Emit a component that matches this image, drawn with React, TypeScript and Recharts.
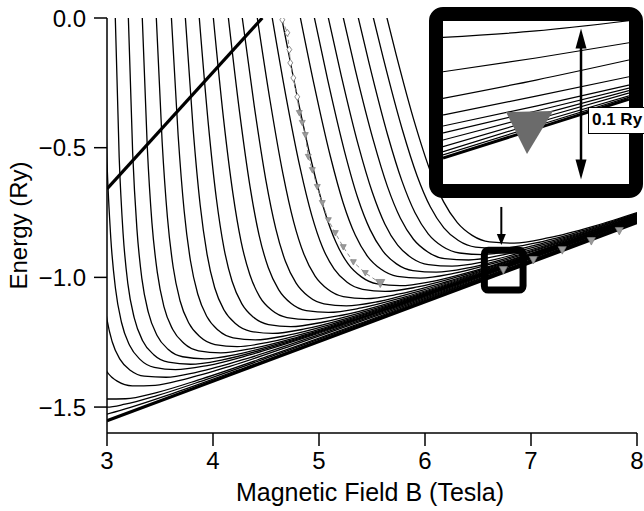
import React from "react";
import {
  ComposedChart,
  Line,
  Scatter,
  XAxis,
  YAxis,
  ReferenceArea,
  ReferenceDot,
  ReferenceLine,
} from "recharts";

type Pt = [number, number];

// energy levels, [B (Tesla), E (Ry)]
const lvlM5: Pt[] = [[2.84, -1.54], [3.0, -1.527], [3.214, -1.502], [3.617, -1.448], [4.336, -1.343], [5.457, -1.174], [8, -0.787]];
const lvlM4: Pt[] = [[2.903, -1.5], [3.0, -1.5], [3.17, -1.489], [3.471, -1.456], [3.933, -1.394], [4.625, -1.294], [5.664, -1.14], [8, -0.785]];
const lvlM3: Pt[] = [[2.884, -1.453], [3.0, -1.469], [3.176, -1.468], [3.468, -1.444], [3.888, -1.392], [4.534, -1.302], [5.504, -1.16], [8, -0.784]];
const lvlM2: Pt[] = [[2.937, -1.315], [3.0, -1.364], [3.096, -1.4], [3.239, -1.418], [3.454, -1.416], [3.739, -1.392], [4.166, -1.342], [4.736, -1.264], [5.675, -1.129], [8, -0.781]];
const lvlM1: Pt[] = [[2.965, -1.06], [3.0, -1.163], [3.049, -1.248], [3.123, -1.316], [3.226, -1.36], [3.351, -1.381], [3.557, -1.385], [3.851, -1.365], [4.35, -1.309], [5.07, -1.211], [6.178, -1.051], [8, -0.778]];
const lvl0: Pt[] = [[2.962, 0.039], [3.0, -0.555], [3.036, -0.85], [3.08, -1.043], [3.137, -1.174], [3.213, -1.262], [3.314, -1.317], [3.446, -1.347], [3.646, -1.356], [3.946, -1.34], [4.345, -1.299], [4.943, -1.223], [5.741, -1.111], [6.827, -0.952], [8, -0.776]];
const lvl1: Pt[] = [[3.077, 0.02], [3.115, -0.538], [3.152, -0.832], [3.197, -1.025], [3.257, -1.156], [3.336, -1.244], [3.441, -1.298], [3.579, -1.327], [3.787, -1.335], [4.1, -1.317], [4.516, -1.273], [5.14, -1.193], [5.972, -1.075], [7.105, -0.909], [8, -0.775]];
const lvl2: Pt[] = [[3.2, 0.02], [3.242, -0.518], [3.282, -0.812], [3.329, -1.005], [3.39, -1.135], [3.471, -1.223], [3.576, -1.277], [3.714, -1.306], [3.923, -1.314], [4.235, -1.296], [4.651, -1.252], [5.274, -1.172], [6.105, -1.055], [7.235, -0.889], [8, -0.775]];
const lvl3: Pt[] = [[3.331, 0.02], [3.38, -0.497], [3.424, -0.79], [3.475, -0.982], [3.537, -1.113], [3.619, -1.2], [3.725, -1.254], [3.864, -1.283], [4.073, -1.291], [4.385, -1.273], [4.8, -1.23], [5.422, -1.15], [6.251, -1.033], [7.379, -0.867], [8, -0.774]];
const lvl4: Pt[] = [[3.463, 0.02], [3.52, -0.476], [3.57, -0.768], [3.624, -0.96], [3.689, -1.09], [3.773, -1.177], [3.88, -1.23], [4.019, -1.259], [4.228, -1.267], [4.54, -1.249], [4.954, -1.206], [5.575, -1.126], [6.401, -1.01], [8, -0.774]];
const lvl5: Pt[] = [[3.605, 0.02], [3.671, -0.452], [3.728, -0.744], [3.787, -0.935], [3.856, -1.064], [3.942, -1.151], [4.05, -1.204], [4.19, -1.233], [4.399, -1.241], [4.71, -1.223], [5.123, -1.18], [5.742, -1.101], [6.566, -0.984], [8, -0.773]];
const lvl6: Pt[] = [[3.736, 0.02], [3.813, -0.431], [3.879, -0.721], [3.944, -0.911], [4.016, -1.04], [4.104, -1.126], [4.214, -1.179], [4.355, -1.208], [4.564, -1.216], [4.875, -1.198], [5.287, -1.155], [5.903, -1.076], [6.724, -0.96], [8, -0.773]];
const lvl7: Pt[] = [[3.867, 0.019], [3.956, -0.409], [4.032, -0.697], [4.103, -0.886], [4.18, -1.015], [4.271, -1.101], [4.383, -1.154], [4.524, -1.182], [4.734, -1.19], [5.044, -1.172], [5.455, -1.129], [6.068, -1.051], [6.885, -0.936], [8, -0.772]];
const lvl8: Pt[] = [[3.999, 0.019], [4.099, -0.387], [4.187, -0.674], [4.265, -0.862], [4.347, -0.989], [4.441, -1.075], [4.555, -1.127], [4.698, -1.155], [4.908, -1.163], [5.217, -1.146], [5.626, -1.103], [6.236, -1.025], [7.048, -0.911], [8, -0.771]];
const lvl9: Pt[] = [[4.14, 0.019], [4.251, -0.364], [4.349, -0.649], [4.434, -0.836], [4.521, -0.962], [4.619, -1.047], [4.735, -1.1], [4.879, -1.128], [5.089, -1.135], [5.398, -1.118], [5.805, -1.076], [6.412, -0.998], [7.22, -0.884], [8, -0.77]];
const lvl10: Pt[] = [[4.27, 0.019], [4.39, -0.342], [4.499, -0.626], [4.592, -0.812], [4.683, -0.938], [4.784, -1.022], [4.902, -1.074], [5.047, -1.102], [5.258, -1.11], [5.566, -1.093], [5.971, -1.05], [6.576, -0.973], [7.379, -0.86], [8, -0.77]];
const lvl11: Pt[] = [[4.411, 0.019], [4.539, -0.32], [4.66, -0.601], [4.761, -0.786], [4.858, -0.911], [4.963, -0.995], [5.083, -1.046], [5.229, -1.074], [5.44, -1.082], [5.747, -1.065], [6.151, -1.023], [6.752, -0.946], [7.55, -0.834], [8, -0.768]];
const lvl12: Pt[] = [[4.551, 0.019], [4.686, -0.297], [4.821, -0.576], [4.931, -0.76], [5.033, -0.884], [5.142, -0.967], [5.265, -1.019], [5.412, -1.046], [5.623, -1.054], [5.93, -1.037], [6.332, -0.995], [6.929, -0.919], [8, -0.767]];
const lvl13: Pt[] = [[4.641, 0.014], [4.784, -0.282], [4.932, -0.559], [5.05, -0.741], [5.16, -0.865], [5.273, -0.947], [5.4, -0.998], [5.55, -1.025], [5.765, -1.032], [6.074, -1.015], [6.48, -0.973], [7.082, -0.896], [8, -0.766]];
const lvl14: Pt[] = [[4.813, 0.024], [4.953, -0.256], [5.107, -0.533], [5.229, -0.714], [5.342, -0.837], [5.458, -0.919], [5.586, -0.969], [5.739, -0.996], [5.956, -1.003], [6.27, -0.985], [6.68, -0.942], [7.288, -0.864], [8, -0.763]];
const lvl15: Pt[] = [[4.945, 0.023], [5.081, -0.237], [5.24, -0.513], [5.366, -0.694], [5.482, -0.816], [5.601, -0.898], [5.731, -0.948], [5.886, -0.974], [6.106, -0.98], [6.423, -0.962], [6.838, -0.918], [7.453, -0.839], [8, -0.762]];
const lvl16: Pt[] = [[5.077, 0.021], [5.207, -0.217], [5.372, -0.492], [5.503, -0.672], [5.621, -0.794], [5.742, -0.876], [5.875, -0.925], [6.033, -0.951], [6.255, -0.957], [6.576, -0.938], [6.995, -0.894], [7.617, -0.814], [8, -0.76]];
const lvl17: Pt[] = [[5.218, 0.021], [5.341, -0.197], [5.512, -0.471], [5.646, -0.65], [5.768, -0.772], [5.891, -0.853], [6.027, -0.902], [6.186, -0.928], [6.412, -0.933], [6.736, -0.913], [7.159, -0.869], [8, -0.757]];
const lvl18: Pt[] = [[5.359, 0.021], [5.474, -0.177], [5.647, -0.45], [5.783, -0.629], [5.906, -0.751], [6.03, -0.832], [6.166, -0.881], [6.325, -0.906], [6.551, -0.912], [6.875, -0.892], [7.298, -0.848], [8, -0.755]];
const lvl19: Pt[] = [[5.5, 0.022], [5.607, -0.156], [5.785, -0.429], [5.925, -0.608], [6.05, -0.728], [6.178, -0.809], [6.315, -0.858], [6.477, -0.883], [6.706, -0.888], [7.034, -0.868], [7.461, -0.823], [8, -0.753]];
const lvl20: Pt[] = [[5.629, 0.02], [5.726, -0.138], [5.907, -0.41], [6.049, -0.589], [6.176, -0.709], [6.305, -0.789], [6.445, -0.838], [6.608, -0.863], [6.84, -0.868], [7.171, -0.847], [7.603, -0.801], [8, -0.75]];

const levels: Pt[][] = [
  lvlM5, lvlM4, lvlM3, lvlM2, lvlM1, lvl0, lvl1, lvl2, lvl3, lvl4, lvl5, lvl6, lvl7,
  lvl8, lvl9, lvl10, lvl11, lvl12, lvl13, lvl14, lvl15, lvl16, lvl17, lvl18, lvl19, lvl20,
];

// thick lines
const lowestLevel: Pt[] = [[3, -1.553], [8, -0.789]];
const steepLevel: Pt[] = [[3, -0.659], [4.465, 0]];

// grey measured points
const expB = [4.654, 4.701, 4.72, 4.729, 4.758, 4.795, 4.814, 4.842, 4.871, 4.899, 4.937, 4.984, 5.031, 5.088, 5.154, 5.229, 5.324, 5.437, 5.578];
const expE = [-0.007, -0.057, -0.122, -0.173, -0.231, -0.304, -0.366, -0.404, -0.451, -0.535, -0.586, -0.651, -0.713, -0.779, -0.829, -0.883, -0.941, -0.983, -1.022];
const edgeB = [6.739, 7.022, 7.295, 7.569, 7.833];
const edgeE = [-0.972, -0.933, -0.895, -0.86, -0.821];

// inset (zoom of the small box)
const insetB = [6.58, 6.73, 6.88];
const insetLines: number[][] = [
  [-0.9283, -0.9241, -0.9173],
  [-0.9511, -0.942, -0.9319],
  [-0.9687, -0.9566, -0.9433],
  [-0.9797, -0.9672, -0.9544],
  [-0.987, -0.9738, -0.9599],
  [-0.9916, -0.9771, -0.9619],
  [-0.9963, -0.9801, -0.9636],
  [-1.0007, -0.9827, -0.9652],
  [-1.004, -0.985, -0.967],
  [-1.0062, -0.987, -0.968],
];
const insetEdge: Pt[] = [[6.58, -1.0082], [6.88, -0.9693]];
const insetMark: Pt = [6.7187, -0.987];

const xTicks = [3, 4, 5, 6, 7, 8];
const yTicks = [-1.5, -1, -0.5, 0];

const FONT = "'Liberation Sans', Arial, Helvetica, sans-serif";
const toRows = (pts: Pt[]) => pts.map(([b, e]) => ({ b, e }));

const expDot = (p: any) => {
  const { cx, cy, index } = p;
  if (cx == null || cy == null) return <g key={`d${index}`} />;
  if (index < 6) {
    return (
      <path key={`d${index}`} d={`M${cx},${cy - 3.5} L${cx + 2.5},${cy} L${cx},${cy + 3.5} L${cx - 2.5},${cy} Z`}
        fill="#fff" stroke="#8a8a8a" strokeWidth={1} />
    );
  }
  const s = index === expB.length - 1 ? 4.5 : 3;
  return (
    <path key={`d${index}`} d={`M${cx - s},${cy - s * 0.8} L${cx + s},${cy - s * 0.8} L${cx},${cy + s} Z`}
      fill="#9a9a9a" stroke="#808080" strokeWidth={0.7} />
  );
};

const edgeShape = (p: any) => (
  <path d={`M${p.cx - 4},${p.cy - 3.5} L${p.cx + 4},${p.cy - 3.5} L${p.cx},${p.cy + 4} Z`} fill="#9a9a9a" stroke="#808080" strokeWidth={0.7} />
);

const insetShape = (p: any) => (
  <path d={`M${p.cx - 23},${p.cy - 14} L${p.cx + 24},${p.cy - 15} L${p.cx - 2},${p.cy + 28} Z`} fill="#6b6b6b" />
);

const DownArrow = (p: any) => (
  <g>
    <line x1={p.cx} y1={p.cy - 38} x2={p.cx} y2={p.cy - 9} stroke="#000" strokeWidth={2} />
    <path d={`M${p.cx - 4.5},${p.cy - 11} L${p.cx + 4.5},${p.cy - 11} L${p.cx},${p.cy} Z`} fill="#000" />
  </g>
);

const DoubleArrow = (p: any) => {
  const top = Math.min(p.y1, p.y2);
  const bot = Math.max(p.y1, p.y2);
  const x = p.x1;
  return (
    <g>
      <line x1={x} y1={top + 14} x2={x} y2={bot - 14} stroke="#000" strokeWidth={2.5} />
      <path d={`M${x},${top} L${x + 5.5},${top + 20} L${x - 5.5},${top + 20} Z`} fill="#000" />
      <path d={`M${x},${bot} L${x + 5.5},${bot - 20} L${x - 5.5},${bot - 20} Z`} fill="#000" />
    </g>
  );
};

const fmtY = (v: number) => (v === 0 ? "0.0" : "\u2212" + Math.abs(v).toFixed(1));

export default function App() {
  const expRows = expB.map((b, i) => ({ b, e: expE[i] }));
  const edgeRows = edgeB.map((b, i) => ({ b, e: edgeE[i] }));

  return (
    <div style={{ position: "absolute", left: 0, top: 0, width: 644, height: 511, overflow: "hidden", background: "#fff", fontFamily: FONT }}>
      <ComposedChart width={644} height={511} margin={{ top: 18, right: 7, bottom: 0, left: 0 }}>
        <XAxis
          type="number"
          dataKey="b"
          domain={[3, 8]}
          ticks={xTicks}
          allowDataOverflow
          height={78}
          tickSize={13}
          tickMargin={6}
          axisLine={{ stroke: "#000", strokeWidth: 1.5 }}
          tickLine={{ stroke: "#000", strokeWidth: 1.5 }}
          tick={{ fontSize: 24, fill: "#000", fontFamily: FONT }}
          label={(props: any) => {
            const vb = props.viewBox;
            return (
              <text x={vb.x + vb.width / 2 - 2} y={501} textAnchor="middle" fontSize={25} fill="#000" fontFamily={FONT}>
                Magnetic Field B (Tesla)
              </text>
            );
          }}
        />
        <YAxis
          type="number"
          dataKey="e"
          domain={[-1.6, 0]}
          ticks={yTicks}
          allowDataOverflow
          width={107}
          tickSize={13}
          tickMargin={8}
          tickFormatter={fmtY}
          axisLine={{ stroke: "#000", strokeWidth: 1.5 }}
          tickLine={{ stroke: "#000", strokeWidth: 1.5 }}
          tick={{ fontSize: 24, fill: "#000", fontFamily: FONT }}
          label={(props: any) => {
            const vb = props.viewBox;
            const cy = vb.y + vb.height / 2;
            return (
              <text x={27} y={cy} transform={`rotate(-90 27 ${cy})`} textAnchor="middle" fontSize={24} fill="#000" fontFamily={FONT}>
                Energy (Ry)
              </text>
            );
          }}
        />
        {levels.map((pts, i) => (
          <Line
            key={`lvl${i}`}
            data={toRows(pts)}
            dataKey="e"
            type="monotone"
            stroke="#000"
            strokeWidth={1.3}
            dot={false}
            activeDot={false}
            isAnimationActive={false}
          />
        ))}
        <Line data={toRows(lowestLevel)} dataKey="e" type="linear" stroke="#000" strokeWidth={3.2} dot={false} activeDot={false} isAnimationActive={false} />
        <Line data={toRows(steepLevel)} dataKey="e" type="linear" stroke="#000" strokeWidth={3.2} dot={false} activeDot={false} isAnimationActive={false} />
        <Line
          data={expRows}
          dataKey="e"
          type="linear"
          stroke="#8c8c8c"
          strokeWidth={1}
          strokeDasharray="4 3"
          dot={expDot}
          activeDot={false}
          isAnimationActive={false}
        />
        <Scatter data={edgeRows} dataKey="e" shape={edgeShape} isAnimationActive={false} />
        <ReferenceArea x1={6.56} x2={6.925} y1={-1.049} y2={-0.895} fill="none" stroke="#000" strokeWidth={7} radius={4} />
        <ReferenceDot x={6.72} y={-0.875} shape={DownArrow} />
      </ComposedChart>

      <div style={{ position: "absolute", left: 429, top: 7, width: 214, height: 191, border: "14px solid #000", borderRadius: 14, background: "#fff", boxSizing: "border-box" }}>
        <div style={{ position: "absolute", left: 0, top: 0 }}>
          <ComposedChart width={186} height={163} margin={{ top: 0, right: 0, bottom: 0, left: 0 }}>
            <XAxis type="number" dataKey="b" domain={[6.58, 6.88]} allowDataOverflow hide />
            <YAxis type="number" dataKey="e" domain={[-1.0254, -0.9175]} allowDataOverflow hide />
            {insetLines.map((es, i) => (
              <Line
                key={`in${i}`}
                data={insetB.map((b, j) => ({ b, e: es[j] }))}
                dataKey="e"
                type="monotone"
                stroke="#000"
                strokeWidth={1.2}
                dot={false}
                activeDot={false}
                isAnimationActive={false}
              />
            ))}
            <Line data={toRows(insetEdge)} dataKey="e" type="linear" stroke="#000" strokeWidth={3} dot={false} activeDot={false} isAnimationActive={false} />
            <Scatter data={[{ b: insetMark[0], e: insetMark[1] }]} dataKey="e" shape={insetShape} isAnimationActive={false} />
            <ReferenceLine segment={[{ x: 6.8026, y: -0.9225 }, { x: 6.8026, y: -1.0225 }]} shape={DoubleArrow} />
          </ComposedChart>
        </div>
      </div>

      <div style={{ position: "absolute", left: 588, top: 107, width: 56, height: 27, background: "#fff", borderTop: "1.5px solid #000", borderLeft: "1.5px solid #000", borderBottom: "1.5px solid #000", boxSizing: "border-box", fontFamily: FONT, fontWeight: "bold", fontSize: 17, lineHeight: "24px", paddingLeft: 3, whiteSpace: "nowrap", color: "#000" }}>
        0.1 Ry
      </div>
    </div>
  );
}
